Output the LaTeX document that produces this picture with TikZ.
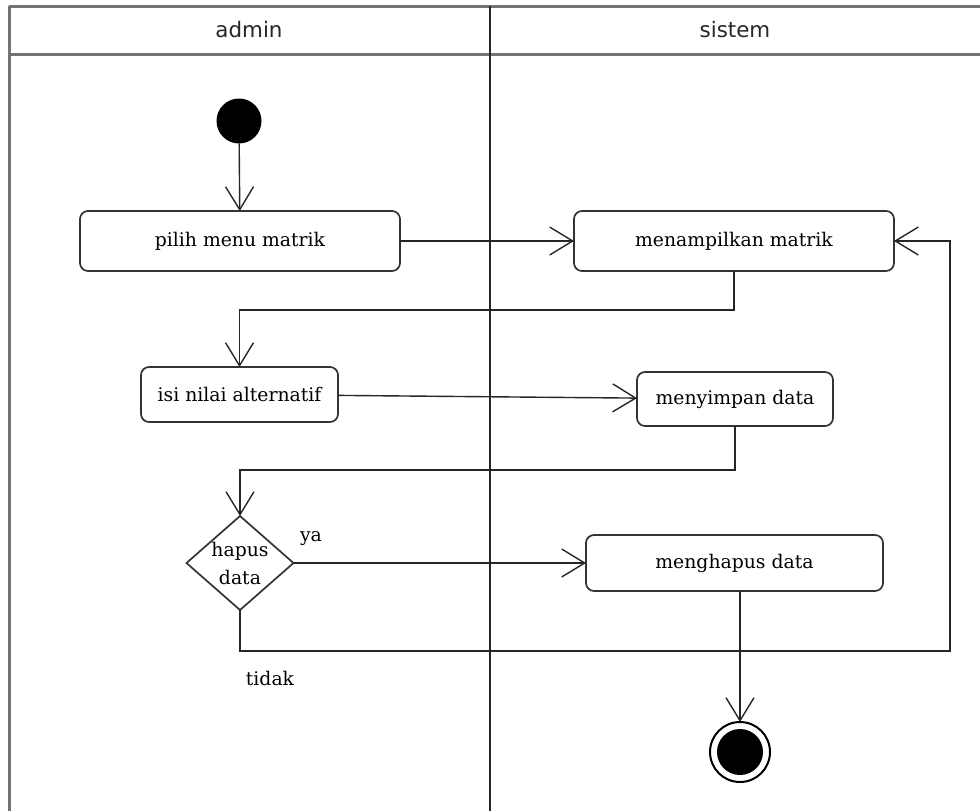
\documentclass[tikz,border=0pt]{standalone}
\usepackage{fontspec}
\setmainfont{DejaVu Serif}
\newfontfamily\lanefont{DejaVu Sans}
\usetikzlibrary{arrows.meta,shapes.geometric}

\begin{document}
\begin{tikzpicture}[x=1pt,y=-1pt,
  every node/.style={inner sep=0pt, outer sep=0pt},
  lane/.style={draw=black!55, line width=3pt},
  lanesep/.style={draw=black!85, line width=1.5pt},
  lanetitle/.style={font=\lanefont\fontsize{21.4}{24}\selectfont, text=black!85},
  action/.style={draw=black!80, line width=1.7pt, rounded corners=8pt, fill=white,
    font=\fontsize{18.8}{22}\selectfont, align=center},
  decision/.style={draw=black!80, line width=1.7pt, diamond, aspect=1.14, fill=white,
    minimum width=107pt, minimum height=94pt, font=\fontsize{18.8}{22}\selectfont,
    align=center},
  guard/.style={font=\fontsize{18.8}{22}\selectfont},
  flow/.style={draw=black!85, line width=1.4pt,
    -{Straight Barb[length=23pt,width=28pt,line width=1.4pt]}},
  startdot/.style={circle, fill=black, minimum size=45pt},
  enddot/.style={circle, draw=black, line width=2pt, minimum size=60pt, fill=white},
]
\useasboundingbox (0,0) rectangle (980,811);

% swimlane frame
\draw[lane] (9,6) -- (980,6);
\draw[lane] (9,54) -- (980,54);
\draw[lane] (9,6) -- (9,811);
\draw[lanesep] (490,6) -- (490,811);
\node[lanetitle] (laneadmin) at (249,30) {admin};
\node[lanetitle] (lanesistem) at (735,30) {sistem};

% activities
\node[startdot] (start) at (239,121) {};
\node[action, minimum width=320pt, minimum height=60pt] (pilih) at (240,241) {pilih menu matrik};
\node[action, minimum width=320pt, minimum height=60pt] (tampil) at (734,241) {menampilkan matrik};
\node[action, minimum width=197pt, minimum height=55pt] (isi) at (239.5,394.5) {isi nilai alternatif};
\node[action, minimum width=196pt, minimum height=54pt] (simpan) at (735,399) {menyimpan data};
\node[decision] (hapus) at (240,563) {hapus\\[6pt]data};
\node[action, minimum width=297pt, minimum height=56pt] (hapusdata) at (734.5,563) {menghapus data};
\node[enddot] (end) at (740,752) {};
\node[circle, fill=black, minimum size=46pt] (enddisc) at (end) {};

% guards
\node[guard] (ya) at (311,539) {ya};
\node[guard] (tidak) at (270,678) {tidak};

% flows
\coordinate (bendA) at (734,310);
\coordinate (bendB) at (735,470);
\coordinate (loopturn) at (950,651);

\draw[flow] (start) -- (pilih);
\draw[flow] (pilih) -- (tampil);
\draw[flow] (tampil.south) -- (bendA) -| (isi.north);
\draw[flow] (isi) -- (simpan);
\draw[flow] (simpan.south) -- (bendB) -| (hapus.north);
\draw[flow] (hapus) -- (hapusdata);
\draw[flow] (hapus.south) |- (loopturn) |- (tampil.east);
\draw[flow] (end |- hapusdata.south) -- (end.north);
\end{tikzpicture}
\end{document}
